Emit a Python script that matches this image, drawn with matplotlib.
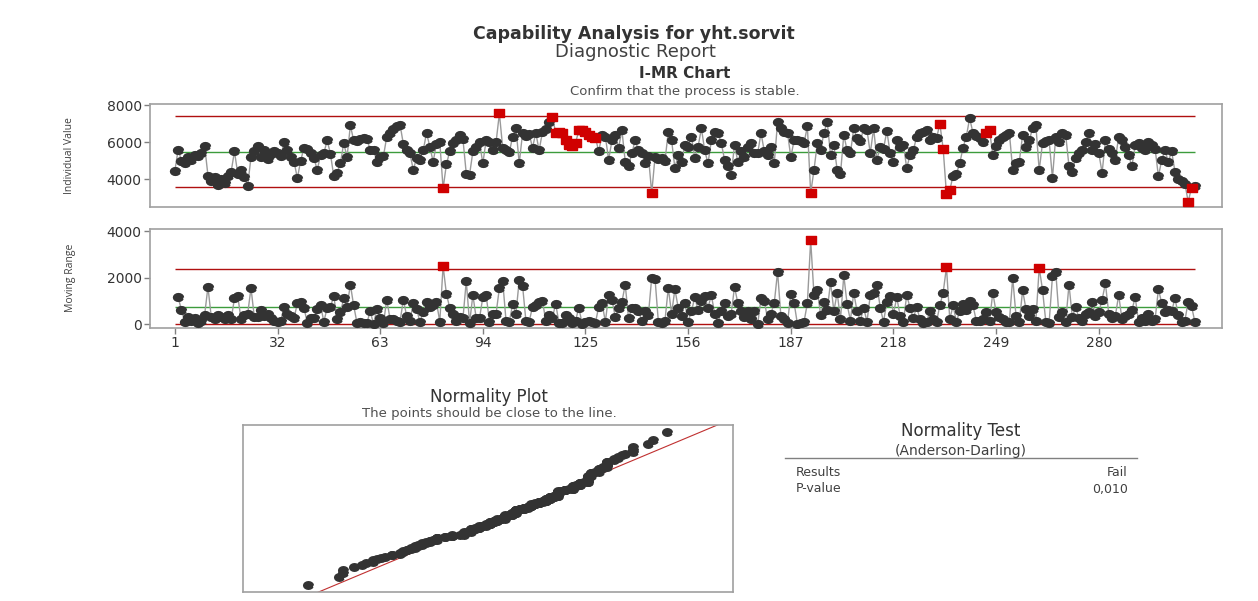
import numpy as np
import matplotlib
matplotlib.use("Agg")
import matplotlib.pyplot as plt
from matplotlib.lines import Line2D
from statistics import NormalDist

# observations, in run order
individual = [
    4450, 5600, 5000, 4900, 5200, 5050, 5300, 5250, 5400, 5800,
    4200, 3900, 4100, 3700, 4000, 3800, 4200, 4400, 5500, 4300,
    4500, 4100, 3650, 5200, 5500, 5800, 5200, 5550, 5100, 5350,
    5500, 5400, 5250, 6000, 5550, 5200, 4950, 4050, 5000, 5700,
    5650, 5400, 5150, 4500, 5300, 5400, 6100, 5350, 4150, 4350,
    4850, 5950, 5200, 6900, 6100, 6050, 6150, 6200, 6150, 5600,
    5600, 4950, 5200, 5250, 6300, 6500, 6700, 6850, 6950, 5900,
    5550, 5400, 4500, 5150, 5050, 5550, 6500, 5750, 4950, 5900,
    6000, 3500, 4800, 5500, 5950, 6100, 6400, 6150, 4300, 4250,
    5500, 5750, 6000, 4850, 6100, 6000, 5550, 6000, 7550, 5700,
    5550, 5450, 6300, 6750, 4850, 6500, 6350, 6450, 5700, 6500,
    5550, 6550, 6700, 7100, 7370, 6500, 6550, 6500, 6100, 5850,
    5800, 5950, 6650, 6650, 6550, 6400, 6300, 6250, 5500, 6400,
    6300, 5050, 6100, 6400, 5700, 6650, 4950, 4700, 5400, 6100,
    5550, 5400, 4850, 5250, 3250, 5200, 5100, 5150, 5000, 6550,
    6100, 4600, 5300, 4950, 5850, 5750, 6300, 5150, 5750, 6750,
    5550, 4850, 6100, 6550, 6500, 5950, 5050, 4700, 4250, 5850,
    4950, 5500, 5200, 5750, 5950, 5400, 5400, 6500, 5500, 5300,
    5750, 4850, 7100, 6750, 6550, 6500, 5200, 6100, 6100, 6050,
    5950, 6850, 3250, 4500, 5950, 5550, 6500, 7100, 5300, 5850,
    4500, 4300, 6400, 5550, 5400, 6750, 6200, 6050, 6750, 6650,
    5400, 6750, 5050, 5750, 5650, 6600, 5400, 4950, 6100, 5750,
    5850, 4600, 5300, 5550, 6300, 6500, 6550, 6650, 6100, 6300,
    6200, 7000, 5650, 3200, 3400, 4200, 4300, 4850, 5700, 6300,
    7300, 6500, 6350, 6200, 6000, 6500, 6650, 5300, 5800, 6100,
    6300, 6400, 6500, 4500, 4850, 4950, 6400, 5750, 6100, 6750,
    6900, 4475, 5950, 6050, 6100, 4050, 6300, 6000, 6500, 6400,
    4700, 4400, 5150, 5400, 5550, 6000, 6500, 5550, 5900, 5400,
    4350, 6100, 5650, 5400, 5050, 6300, 6100, 5750, 5300, 4700,
    5850, 5950, 5700, 5550, 6000, 5850, 5650, 4150, 5050, 5550,
    4950, 5500, 4400, 4000, 3900, 3750, 2780, 3550, 3650,
]

# observations that failed a test (1-based)
i_flagged = [82, 99] + list(range(115, 129)) + [145, 193, 232, 233, 234, 235, 246, 247, 307, 308]
mr_flagged = [82, 193, 234, 262]

# control limits shown on the charts
i_center, i_ucl, i_lcl = 5490, 7420, 3590
mr_center, mr_ucl, mr_lcl = 720, 2350, 0

x_ticks = [1, 32, 63, 94, 125, 156, 187, 218, 249, 280]
i_yticks = [4000, 6000, 8000]
mr_yticks = [0, 2000, 4000]
ad_result = "Fail"
ad_pvalue = "0,010"

W, H = 1258, 601
DARK = "#333333"
RED = "#d00000"
LIMIT = "#b01010"
CENTER = "#3c9c3c"
FRAME = "#a0a0a0"

plt.rcParams["font.family"] = ["DejaVu Sans"]

x = np.asarray(individual, dtype=float)
n = len(x)
obs = np.arange(1, n + 1)
mr = np.abs(np.diff(x))
mr_obs = obs[1:]

# wide dot and wide square, like the report's markers
t = np.linspace(0, 2 * np.pi, 17)[:-1]
DOT = np.column_stack([np.cos(t), 0.78 * np.sin(t)])
SQUARE = [(-1, -0.8), (1, -0.8), (1, 0.8), (-1, 0.8), (-1, -0.8)]


def box(left, top, right, bottom):
    return [left / W, 1 - bottom / H, (right - left) / W, (bottom - top) / H]


def style_axes(ax):
    for s in ax.spines.values():
        s.set_color(FRAME)
        s.set_linewidth(1.2)
    ax.tick_params(axis="y", length=4, width=1, color="#808080",
                   labelsize=10, labelcolor=DARK, pad=2)


def control_chart(ax, xs, ys, flagged, center, ucl, lcl):
    flag = np.isin(xs, flagged)
    ax.plot(xs, ys, color="#9a9a9a", lw=1, zorder=2)
    ax.plot(xs[~flag], ys[~flag], ls="none", marker=DOT, ms=7.2,
            color=DARK, zorder=3)
    ax.plot(xs[flag], ys[flag], ls="none", marker=SQUARE, ms=7.4,
            color=RED, zorder=4)
    ax.hlines([ucl, lcl], 1, n, color=LIMIT, lw=1, zorder=1)
    ax.hlines(center, 1, n, color=CENTER, lw=1, zorder=1)
    ax.set_xlim(-6.5, n + 8.2)


fig = plt.figure(figsize=(W / 100, H / 100), dpi=100)

# Individuals chart
ax_i = fig.add_axes(box(150, 104, 1222, 207))
control_chart(ax_i, obs, x, i_flagged, i_center, i_ucl, i_lcl)
ax_i.set_ylim(2500, 8060)
ax_i.set_yticks(i_yticks)
ax_i.set_xticks([])
style_axes(ax_i)

# Moving range chart
ax_mr = fig.add_axes(box(150, 229, 1222, 328))
control_chart(ax_mr, mr_obs, mr, mr_flagged, mr_center, mr_ucl, mr_lcl)
ax_mr.set_ylim(-170, 4090)
ax_mr.set_yticks(mr_yticks)
ax_mr.set_xticks(x_ticks)
style_axes(ax_mr)
ax_mr.tick_params(axis="x", length=4, width=1, color="#808080",
                  labelsize=10, labelcolor=DARK, pad=2)

fig.text(70 / W, 1 - 156 / H, "Individual Value", rotation=90, ha="center",
         va="center", fontsize=7.5, color="#404040",
         family=["Open Sans", "DejaVu Sans"])
fig.text(70 / W, 1 - 278 / H, "Moving Range", rotation=90, ha="center",
         va="center", fontsize=7.5, color="#404040",
         family=["Open Sans", "DejaVu Sans"])

# Normal probability plot
ax_np = fig.add_axes(box(243, 425, 733, 592))
srt = np.sort(x)
ranks = (np.arange(1, n + 1) - 0.3) / (n + 0.4)
z = np.array([NormalDist().inv_cdf(p) for p in ranks])
mean, sd = x.mean(), x.std(ddof=1)
lo, hi = 1920, 8430
ax_np.plot([lo, hi], [(lo - mean) / sd, (hi - mean) / sd], color="#c03030",
           lw=0.8, zorder=2)
ax_np.plot(srt, z, ls="none", marker=DOT, ms=7, color=DARK, zorder=3)
ax_np.set_xlim(lo, hi)
ax_np.set_ylim(-3.09, 3.09)
ax_np.set_xticks([])
ax_np.set_yticks([])
for s in ax_np.spines.values():
    s.set_color(FRAME)
    s.set_linewidth(1.2)

# headings
fig.text(634 / W, 1 - 34 / H, "Capability Analysis for yht.sorvit", ha="center",
         va="center", fontsize=12.5, fontweight="bold", color=DARK)
fig.text(635 / W, 1 - 52 / H, "Diagnostic Report", ha="center", va="center",
         fontsize=13, color="#404040")
fig.text(685 / W, 1 - 74 / H, "I-MR Chart", ha="center", va="center",
         fontsize=11, fontweight="bold", color=DARK)
fig.text(685 / W, 1 - 91 / H, "Confirm that the process is stable.", ha="center",
         va="center", fontsize=9.5, color="#505050")
fig.text(489 / W, 1 - 397 / H, "Normality Plot", ha="center", va="center",
         fontsize=12, color=DARK)
fig.text(489 / W, 1 - 414 / H, "The points should be close to the line.",
         ha="center", va="center", fontsize=9.5, color="#505050")

# Anderson-Darling summary
fig.text(961 / W, 1 - 431 / H, "Normality Test", ha="center", va="center",
         fontsize=12, color=DARK)
fig.text(961 / W, 1 - 451 / H, "(Anderson-Darling)", ha="center", va="center",
         fontsize=10, color="#404040")
fig.add_artist(Line2D([785 / W, 1137 / W], [1 - 458 / H, 1 - 458 / H],
                      color="#808080", lw=1))
fig.text(796 / W, 1 - 473 / H, "Results", ha="left", va="center",
         fontsize=9, color="#404040")
fig.text(1128 / W, 1 - 473 / H, ad_result, ha="right", va="center",
         fontsize=9, color="#404040")
fig.text(796 / W, 1 - 489 / H, "P-value", ha="left", va="center",
         fontsize=9, color="#404040")
fig.text(1128 / W, 1 - 489 / H, ad_pvalue, ha="right", va="center",
         fontsize=9, color="#404040")

fig.savefig("out.png", dpi=100)
